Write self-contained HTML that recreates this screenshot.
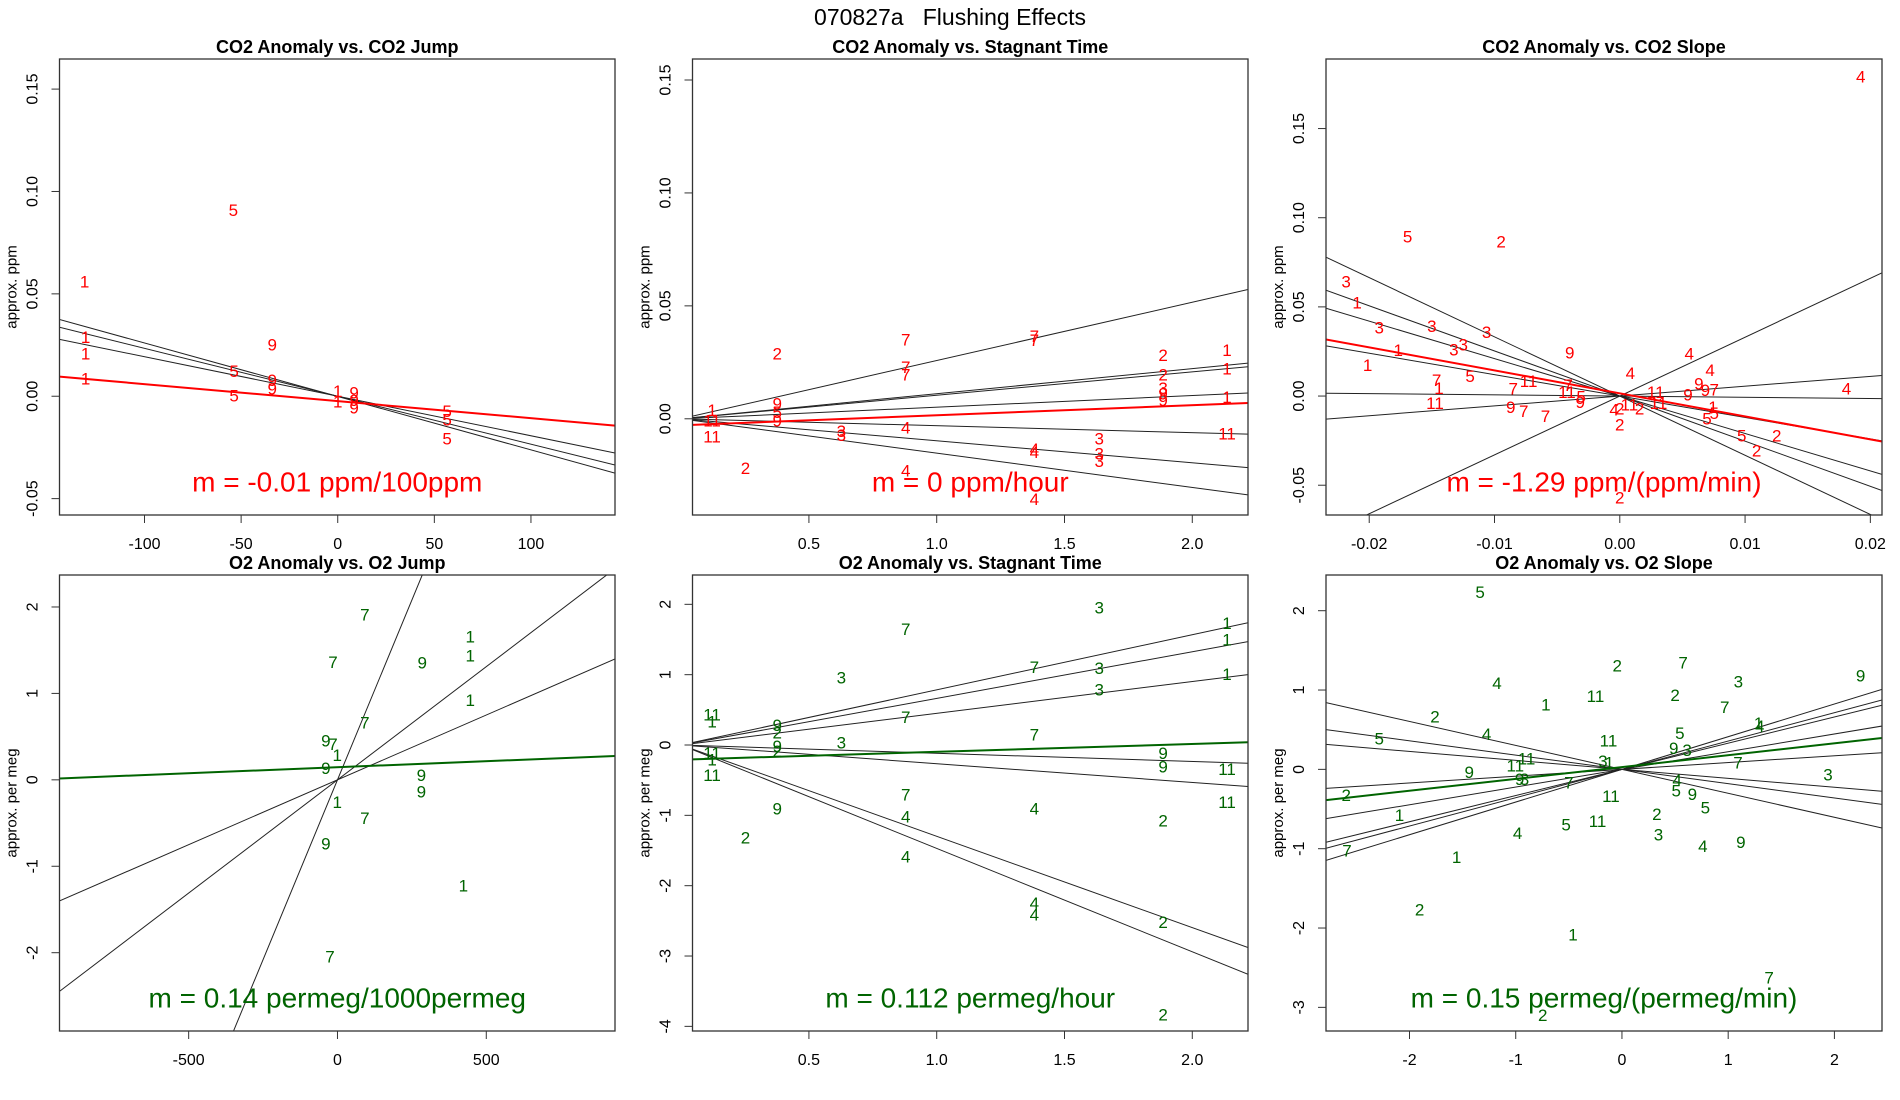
<!DOCTYPE html>
<html><head><meta charset="utf-8"><style>
html,body{margin:0;padding:0;background:#fff;width:1900px;height:1100px;overflow:hidden;}
svg{display:block;font-family:"Liberation Sans",sans-serif;}
</style></head><body>
<svg id="fig" width="1900" height="1100" viewBox="0 0 1900 1100">
<text x="950" y="25" text-anchor="middle" font-size="23" fill="#000">070827a&#160;&#160;&#160;Flushing Effects</text>
</svg>
<script>
// ---------- Panel 1: CO2 Anomaly vs CO2 Jump ----------
const p1X=[-131,-130.5,-130.5,-130.5,-54,-53.6,-53.6,-33.9,-33.9,-33.9,0,0,8.5,8.5,8.5,56.6,56.6,56.6];
const p1Y=[0.0557,0.0287,0.0206,0.0084,0.0906,0.012,0.0,0.025,0.0076,0.0036,0.0024,-0.0027,0.0017,-0.0022,-0.0057,-0.0074,-0.0117,-0.0208];
const p1Lab=["1","1","1","1","5","5","5","9","9","9","1","1","9","9","9","5","5","5"];
const p1LineA=[-0.0001,0,0];
const p1LineB=[-0.000261,-0.000234,-0.000193];
const p1FitA=[-0.0024];
const p1FitB=[-0.0000831];
const p1XTicks=[-100,-50,0,50,100];
const p1XTickLab=["-100","-50","0","50","100"];
const p1YTicks=[-0.05,0,0.05,0.10,0.15];
const p1YTickLab=["-0.05","0.00","0.05","0.10","0.15"];

// ---------- Panel 2: CO2 Anomaly vs Stagnant Time ----------
const p2X=[0.121,0.121,0.121,0.376,0.376,0.376,0.376,0.252,0.627,0.627,0.879,0.879,0.879,0.879,0.879,1.382,1.382,1.382,1.382,1.382,1.636,1.636,1.636,1.886,1.886,1.886,1.886,1.886,2.136,2.136,2.136,2.136];
const p2Y=[0.0036,-0.0009,-0.008,0.0287,0.0065,0.0028,-0.0009,-0.022,-0.0056,-0.0075,0.0349,0.0228,0.0194,-0.0041,-0.0231,0.0364,0.0346,-0.0135,-0.0149,-0.0357,-0.009,-0.0157,-0.0189,0.028,0.0194,0.0135,0.011,0.008,0.0302,0.022,0.0095,-0.0068];
const p2Lab=["1","11","11","2","9","5","9","2","3","3","7","7","7","4","4","7","7","4","4","4","3","3","3","2","2","3","9","9","1","1","1","11"];
const p2LineA=[0,0,0,0,0,0,0];
const p2LineB=[0.0258,0.0111,0.0104,0.00514,-0.00307,-0.00974,-0.0152];
const p2FitA=[-0.0029];
const p2FitB=[0.00446];
const p2XTicks=[0.5,1.0,1.5,2.0];
const p2XTickLab=["0.5","1.0","1.5","2.0"];
const p2YTicks=[0,0.05,0.10,0.15];
const p2YTickLab=["0.00","0.05","0.10","0.15"];

// ---------- Panel 3: CO2 Anomaly vs CO2 Slope ----------
const p3X=[0.01923,-0.01694,-0.00947,-0.02184,-0.02097,-0.0192,-0.0150,-0.01063,-0.01324,-0.0125,-0.01768,-0.02013,-0.0040,-0.01462,-0.01443,-0.01195,-0.01475,-0.0085,-0.00728,-0.0087,-0.00767,-0.00593,-0.00412,-0.00422,-0.00309,-0.00316,0.00084,-0.00045,0,0,0,0.00077,0.00158,0.00287,0.00309,0.00554,0.00721,0.00544,0.00631,0.00683,0.00754,0.00744,0.00754,0.00696,0.00973,0.01253,0.01092,0.0181];
const p3Y=[0.179,0.0891,0.0863,0.0639,0.0521,0.0382,0.039,0.0356,0.0258,0.0287,0.0255,0.017,0.0242,0.0086,0.0043,0.0109,-0.0041,0.0039,0.0082,-0.0064,-0.0086,-0.0116,0.0058,0.0021,-0.0004,-0.0036,0.0127,-0.0079,-0.0073,-0.0161,-0.0573,-0.0049,-0.0073,0.0021,-0.0041,0.0236,0.0142,0.0007,0.0067,0.003,0.0034,-0.0064,-0.0097,-0.0129,-0.0223,-0.0223,-0.0307,0.0039];
const p3Lab=["4","5","2","3","1","3","3","3","3","3","1","1","9","7","1","5","11","7","11","9","7","7","7","11","5","9","4","4","2","2","2","11","2","11","11","4","4","9","9","9","7","1","5","5","5","2","2","4"];
const p3LineA=[0,0,0,0,0,0,0];
const p3LineB=[-3.32,-2.53,-2.10,-1.2,-0.068,0.552,3.3];
const p3FitA=[0.0015];
const p3FitB=[-1.29];
const p3XTicks=[-0.02,-0.01,0,0.01,0.02];
const p3XTickLab=["-0.02","-0.01","0.00","0.01","0.02"];
const p3YTicks=[-0.05,0,0.05,0.10,0.15];
const p3YTickLab=["-0.05","0.00","0.05","0.10","0.15"];

// ---------- Panel 4: O2 Anomaly vs O2 Jump ----------
const p4X=[92,-15,285,446,446,446,92,-39,-15,-1,-39,282,282,-1,92,-39,423,-25];
const p4Y=[1.91,1.36,1.35,1.65,1.43,0.92,0.66,0.45,0.41,0.28,0.13,0.05,-0.14,-0.26,-0.45,-0.74,-1.23,-2.05];
const p4Lab=["7","7","9","1","1","1","7","9","7","1","9","9","9","1","7","9","1","7"];
const p4LineA=[0,0,0];
const p4LineB=[0.00832,0.00262,0.0015];
const p4FitA=[0.146];
const p4FitB=[0.000139];
const p4XTicks=[-500,0,500];
const p4XTickLab=["-500","0","500"];
const p4YTicks=[-2,-1,0,1,2];
const p4YTickLab=["-2","-1","0","1","2"];

// ---------- Panel 5: O2 Anomaly vs Stagnant Time ----------
const p5X=[0.121,0.121,0.121,0.121,0.121,0.376,0.376,0.376,0.376,0.376,0.252,0.627,0.627,0.879,0.879,0.879,0.879,0.879,1.382,1.382,1.382,1.382,1.382,1.636,1.636,1.636,1.886,1.886,1.886,1.886,1.886,2.136,2.136,2.136,2.136,2.136];
const p5Y=[0.43,0.33,-0.12,-0.21,-0.43,0.28,0.17,-0.02,-0.09,-0.91,-1.32,0.95,0.03,1.64,0.39,-0.71,-1.02,-1.59,1.10,0.14,-0.91,-2.25,-2.42,1.95,1.09,0.78,-0.12,-0.31,-1.08,-2.52,-3.84,1.73,1.49,1.00,-0.35,-0.82];
const p5Lab=["11","1","11","1","11","9","2","9","2","9","2","3","3","7","7","7","4","4","7","7","4","4","4","3","3","3","9","9","2","2","2","1","1","1","11","11"];
const p5LineA=[0,0,0,0,0,0,0];
const p5LineB=[0.784,0.663,0.451,-0.117,-0.266,-1.298,-1.470];
const p5FitA=[-0.209];
const p5FitB=[0.112];
const p5XTicks=[0.5,1.0,1.5,2.0];
const p5XTickLab=["0.5","1.0","1.5","2.0"];
const p5YTicks=[-4,-3,-2,-1,0,1,2];
const p5YTickLab=["-4","-3","-2","-1","0","1","2"];

// ---------- Panel 6: O2 Anomaly vs O2 Slope ----------
const p6X=[-1.335,-0.044,0.576,2.247,-1.176,1.096,-0.249,0.5,-0.716,0.967,-1.76,1.286,1.297,-2.285,-1.274,0.545,-0.127,0.488,0.613,-0.898,-1.004,-0.18,-0.12,1.092,-1.438,-0.963,-0.917,-0.5,1.939,0.519,0.511,0.663,-2.596,-0.104,0.785,-2.094,0.329,-0.526,-0.23,-0.982,0.344,0.762,1.119,-2.588,-1.556,-1.905,-0.461,1.385,-0.746];
const p6Y=[2.23,1.30,1.34,1.18,1.08,1.10,0.92,0.93,0.81,0.78,0.66,0.58,0.54,0.38,0.44,0.45,0.36,0.26,0.24,0.13,0.04,0.10,0.08,0.08,-0.04,-0.13,-0.13,-0.17,-0.07,-0.14,-0.27,-0.32,-0.33,-0.34,-0.49,-0.58,-0.57,-0.70,-0.66,-0.81,-0.83,-0.97,-0.92,-1.03,-1.11,-1.77,-2.09,-2.63,-3.10];
const p6Lab=["5","2","7","9","4","3","11","2","1","7","2","1","4","5","4","5","11","9","3","11","11","3","1","7","9","9","3","7","3","4","5","9","2","11","5","1","2","5","11","4","3","4","9","7","1","2","1","7","2"];
const p6LineA=[0,0,0,0,0,0,0,0];
const p6LineB=[0.412,0.357,0.330,0.223,0.0858,-0.113,-0.180,-0.302];
const p6FitA=[0.029];
const p6FitB=[0.1494];
const p6XTicks=[-2,-1,0,1,2];
const p6XTickLab=["-2","-1","0","1","2"];
const p6YTicks=[-3,-2,-1,0,1,2];
const p6YTickLab=["-3","-2","-1","0","1","2"];

const NS="http://www.w3.org/2000/svg";
const svg=document.getElementById('fig');
function mk(tag,attrs,parent){const e=document.createElementNS(NS,tag);for(const k in attrs)e.setAttribute(k,attrs[k]);(parent||svg).appendChild(e);return e;}

const RED="#ff0000", GREEN="#006400";
const panels=[
 {id:1,box:[59.5,59,615,515],xl:[-144,143.5],yl:[-0.058,0.1647],X:p1X,Y:p1Y,L:p1Lab,A:p1LineA,B:p1LineB,FA:p1FitA,FB:p1FitB,xt:p1XTicks,xtl:p1XTickLab,yt:p1YTicks,ytl:p1YTickLab,col:RED,title:"CO2 Anomaly vs. CO2 Jump",ylab:"approx. ppm",ann:"m = -0.01 ppm/100ppm"},
 {id:2,box:[692.5,59,1248,515],xl:[0.0445,2.218],yl:[-0.0426,0.1593],X:p2X,Y:p2Y,L:p2Lab,A:p2LineA,B:p2LineB,FA:p2FitA,FB:p2FitB,xt:p2XTicks,xtl:p2XTickLab,yt:p2YTicks,ytl:p2YTickLab,col:RED,title:"CO2 Anomaly vs. Stagnant Time",ylab:"approx. ppm",ann:"m = 0 ppm/hour"},
 {id:3,box:[1326,59,1882,515],xl:[-0.02345,0.02093],yl:[-0.0667,0.189],X:p3X,Y:p3Y,L:p3Lab,A:p3LineA,B:p3LineB,FA:p3FitA,FB:p3FitB,xt:p3XTicks,xtl:p3XTickLab,yt:p3YTicks,ytl:p3YTickLab,col:RED,title:"CO2 Anomaly vs. CO2 Slope",ylab:"approx. ppm",ann:"m = -1.29 ppm/(ppm/min)"},
 {id:4,box:[59.5,575,615,1031],xl:[-934,932.5],yl:[-2.906,2.37],X:p4X,Y:p4Y,L:p4Lab,A:p4LineA,B:p4LineB,FA:p4FitA,FB:p4FitB,xt:p4XTicks,xtl:p4XTickLab,yt:p4YTicks,ytl:p4YTickLab,col:GREEN,title:"O2 Anomaly vs. O2 Jump",ylab:"approx. per meg",ann:"m = 0.14 permeg/1000permeg"},
 {id:5,box:[692.5,575,1248,1031],xl:[0.0445,2.218],yl:[-4.066,2.417],X:p5X,Y:p5Y,L:p5Lab,A:p5LineA,B:p5LineB,FA:p5FitA,FB:p5FitB,xt:p5XTicks,xtl:p5XTickLab,yt:p5YTicks,ytl:p5YTickLab,col:GREEN,title:"O2 Anomaly vs. Stagnant Time",ylab:"approx. per meg",ann:"m = 0.112 permeg/hour"},
 {id:6,box:[1326,575,1882,1031],xl:[-2.786,2.448],yl:[-3.298,2.45],X:p6X,Y:p6Y,L:p6Lab,A:p6LineA,B:p6LineB,FA:p6FitA,FB:p6FitB,xt:p6XTicks,xtl:p6XTickLab,yt:p6YTicks,ytl:p6YTickLab,col:GREEN,title:"O2 Anomaly vs. O2 Slope",ylab:"approx. per meg",ann:"m = 0.15 permeg/(permeg/min)"}
];

panels.forEach(p=>{
  const [x0,y0,x1,y1]=p.box;
  const sx=v=>x0+(v-p.xl[0])/(p.xl[1]-p.xl[0])*(x1-x0);
  const sy=v=>y1-(v-p.yl[0])/(p.yl[1]-p.yl[0])*(y1-y0);
  const g=mk('g',{});
  
  
  const cp=mk('clipPath',{id:'clip'+p.id},g);
  mk('rect',{x:x0,y:y0,width:x1-x0,height:y1-y0},cp);
  const t=mk('text',{x:(x0+x1)/2,y:y0-6,'text-anchor':'middle','font-size':18,'font-weight':'bold',fill:'#000'},g);
  t.textContent=p.title;
  
  
  const yl=mk('text',{x:x0-43,y:(y0+y1)/2,'text-anchor':'middle','font-size':15,fill:'#000',transform:`rotate(-90 ${x0-43} ${(y0+y1)/2})`},g);
  yl.textContent=p.ylab;
  
  
  const xa=mk('g',{},g);
  
  
  p.xt.forEach((v,i)=>{
    const X=sx(v);
    mk('line',{x1:X,y1:y1,x2:X,y2:y1+8,stroke:'#333','stroke-width':1},xa);
    const tl=mk('text',{x:X,y:y1+34,'text-anchor':'middle','font-size':16,fill:'#000'},xa);
    tl.textContent=p.xtl[i];
    
    
  });
  const ya=mk('g',{},g);
  
  
  p.yt.forEach((v,i)=>{
    const Y=sy(v);
    mk('line',{x1:x0-8,y1:Y,x2:x0,y2:Y,stroke:'#333','stroke-width':1},ya);
    const tl=mk('text',{x:x0-22,y:Y,'text-anchor':'middle','font-size':16,fill:'#000',transform:`rotate(-90 ${x0-22} ${Y})`},ya);
    tl.textContent=p.ytl[i];
    
    
  });
  const lg=mk('g',{'clip-path':`url(#clip${p.id})`},g);
  p.B.forEach((b,i)=>{
    const a=p.A[i];
    const l=mk('line',{x1:sx(p.xl[0]),y1:sy(a+b*p.xl[0]),x2:sx(p.xl[1]),y2:sy(a+b*p.xl[1]),stroke:'#222','stroke-width':1},lg);
    
    
  });
  p.X.forEach((xv,i)=>{
    const tx=mk('text',{x:sx(xv),y:sy(p.Y[i]),'text-anchor':'middle','dominant-baseline':'central','font-size':17,fill:p.col},lg);
    tx.textContent=p.L[i];
    
    
  });
  p.FB.forEach((b,i)=>{
    const a=p.FA[i];
    const l=mk('line',{x1:sx(p.xl[0]),y1:sy(a+b*p.xl[0]),x2:sx(p.xl[1]),y2:sy(a+b*p.xl[1]),stroke:p.col,'stroke-width':2},lg);
    
    
  });
  const an=mk('text',{x:(x0+x1)/2,y:y1-33,'text-anchor':'middle','dominant-baseline':'central','font-size':28,fill:p.col},g);
  an.textContent=p.ann;
  
  
  const r=mk('rect',{x:x0,y:y0,width:x1-x0,height:y1-y0,fill:'none',stroke:'#333','stroke-width':1.3},g);
  
  
});
</script>
</body></html>
